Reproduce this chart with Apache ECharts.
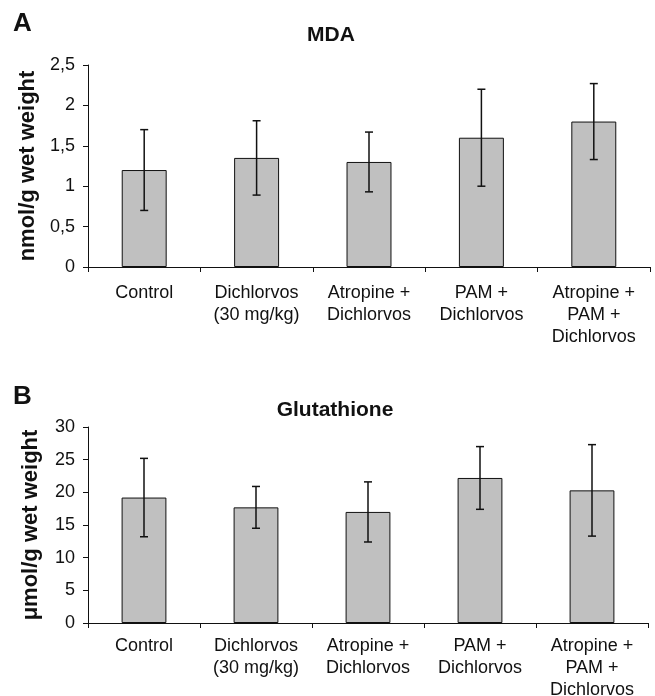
<!DOCTYPE html>
<html><head><meta charset="utf-8">
<script src="https://cdn.jsdelivr.net/npm/echarts@6/dist/echarts.min.js"></script>
<style>html,body{margin:0;padding:0;background:#fff}#c{width:655px;height:696px}</style>
</head><body><div id="c"></div>
<script>
const categories = ['Control', 'Dichlorvos\n(30 mg/kg)', 'Atropine +\nDichlorvos', 'PAM +\nDichlorvos', 'Atropine +\nPAM +\nDichlorvos'];
const mdaMean = [1.2, 1.35, 1.3, 1.6, 1.8];
const mdaErr = [0.5, 0.46, 0.37, 0.6, 0.47];
const gshMean = [19.2, 17.7, 17.0, 22.2, 20.3];
const gshErr = [6.0, 3.2, 4.6, 4.8, 7.0];
const mdaTickLabels = ['0', '0,5', '1', '1,5', '2', '2,5'];
const gshTickLabels = ['0', '5', '10', '15', '20', '25', '30'];

const FONT = 'Liberation Sans, Arial, Helvetica, sans-serif';
const INK = '#111';

function errData(means, errs) {
  return means.map((m, i) => [i, m, errs[i]]);
}
function renderErr(params, api) {
  const x = api.value(0), m = api.value(1), e = api.value(2);
  const top = api.coord([x, m + e]);
  const bot = api.coord([x, m - e]);
  const cap = 4;
  const style = { stroke: INK, lineWidth: 1.5 };
  return {
    type: 'group',
    children: [
      { type: 'line', shape: { x1: top[0], y1: top[1], x2: bot[0], y2: bot[1] }, style },
      { type: 'line', shape: { x1: top[0] - cap, y1: top[1], x2: top[0] + cap, y2: top[1] }, style },
      { type: 'line', shape: { x1: bot[0] - cap, y1: bot[1], x2: bot[0] + cap, y2: bot[1] }, style }
    ]
  };
}
function xAx(gi, margin) {
  return {
    type: 'category', gridIndex: gi, data: categories, boundaryGap: true,
    axisLine: { show: true, lineStyle: { color: INK, width: 1 } },
    axisTick: { show: true, length: 5, lineStyle: { color: INK } },
    axisLabel: { interval: 0, color: INK, fontSize: 18, lineHeight: 22, margin: margin, fontFamily: FONT }
  };
}
function yAx(gi, max, interval, labels, name) {
  return {
    type: 'value', gridIndex: gi, min: 0, max: max, interval: interval,
    name: name, nameLocation: 'middle', nameRotate: 90, nameGap: 46,
    nameTextStyle: { fontSize: 22, fontWeight: 'bold', color: INK, fontFamily: FONT },
    splitLine: { show: false },
    axisLine: { show: true, lineStyle: { color: INK, width: 1 } },
    axisTick: { show: true, length: 5, lineStyle: { color: INK } },
    axisLabel: {
      color: INK, fontSize: 18, margin: 13, fontFamily: FONT,
      formatter: v => labels[Math.round(v / interval)]
    }
  };
}
const barStyle = { color: '#c0c0c0', borderColor: INK, borderWidth: 1 };

const chart = echarts.init(document.getElementById('c'), null, { renderer: 'canvas' });
chart.setOption({
  animation: false,
  backgroundColor: '#fff',
  title: [
    { text: 'A', left: 8, top: 6, textStyle: { fontSize: 26, fontWeight: 'bold', color: INK, fontFamily: FONT } },
    { text: 'MDA', left: 326, textAlign: 'center', top: 20, textStyle: { fontSize: 21, fontWeight: 'bold', color: INK, fontFamily: FONT } },
    { text: 'B', left: 8, top: 379, textStyle: { fontSize: 26, fontWeight: 'bold', color: INK, fontFamily: FONT } },
    { text: 'Glutathione', left: 330, textAlign: 'center', top: 395, textStyle: { fontSize: 21, fontWeight: 'bold', color: INK, fontFamily: FONT } }
  ],
  grid: [
    { left: 88, right: 5, top: 65, height: 202, outerBoundsMode: 'none' },
    { left: 88, right: 7, top: 427, height: 196, outerBoundsMode: 'none' }
  ],
  xAxis: [xAx(0, 15), xAx(1, 12)],
  yAxis: [
    yAx(0, 2.5, 0.5, mdaTickLabels, 'nmol/g wet weight'),
    yAx(1, 30, 5, gshTickLabels, '\u03bcmol/g wet weight')
  ],
  series: [
    { type: 'bar', xAxisIndex: 0, yAxisIndex: 0, data: mdaMean, barWidth: '40%', itemStyle: barStyle },
    { type: 'custom', xAxisIndex: 0, yAxisIndex: 0, data: errData(mdaMean, mdaErr), renderItem: renderErr, encode: { x: 0, y: 1 }, z: 5 },
    { type: 'bar', xAxisIndex: 1, yAxisIndex: 1, data: gshMean, barWidth: '40%', itemStyle: barStyle },
    { type: 'custom', xAxisIndex: 1, yAxisIndex: 1, data: errData(gshMean, gshErr), renderItem: renderErr, encode: { x: 0, y: 1 }, z: 5 }
  ]
});
</script>
</body></html>
